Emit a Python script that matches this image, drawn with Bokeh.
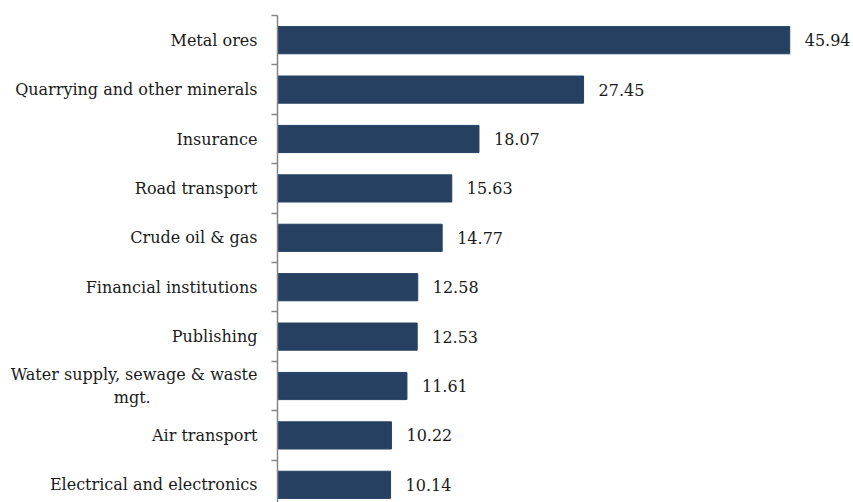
from bokeh.plotting import figure
from bokeh.models import Range1d, FixedTicker, ColumnDataSource
from bokeh.core.properties import value
from bokeh.embed import file_html
from bokeh.resources import INLINE

categories = [
    "Metal ores",
    "Quarrying and other minerals",
    "Insurance",
    "Road transport",
    "Crude oil & gas",
    "Financial institutions",
    "Publishing",
    "Water supply, sewage & waste\nmgt.",
    "Air transport",
    "Electrical and electronics",
]
values = [45.94, 27.45, 18.07, 15.63, 14.77, 12.58, 12.53, 11.61, 10.22, 10.14]

FONT = "DejaVu Serif"
BAR = "#254061"

pos = list(range(len(categories)))
src = ColumnDataSource(dict(y=pos, v=values, lbl=[f"{x:.2f}" for x in values]))

p = figure(width=853, height=502, output_backend="svg", toolbar_location=None,
           x_range=Range1d(0, 51.66), y_range=Range1d(9.358, -0.5),
           min_border_left=277, min_border_right=0, min_border_top=15,
           min_border_bottom=0, outline_line_color=None)

p.hbar(y="y", right="v", left=0, height=0.55, source=src,
       fill_color=BAR, line_color=BAR)
p.text(x="v", y="y", text="lbl", source=src, x_offset=15,
       text_baseline="middle", text_align="left",
       text_font=value(FONT), text_font_size="16px", text_color="#1a1a1a")

p.xaxis.visible = False
p.grid.visible = False


def centered(label):
    # centre the wrapped second line under the first one
    lines = label.split("\n")
    if len(lines) == 2:
        pad = "\u00a0" * 21
        return lines[0] + "\n" + lines[1] + pad
    return label


ya = p.yaxis[0]
ya.ticker = FixedTicker(ticks=pos, minor_ticks=[i - 0.5 for i in range(len(categories) + 1)])
ya.major_label_overrides = {i: centered(c) for i, c in enumerate(categories)}
ya.major_tick_out = 0
ya.major_tick_in = 0
ya.minor_tick_out = 6
ya.minor_tick_in = 0
ya.minor_tick_line_color = "#868686"
ya.axis_line_color = "#868686"
ya.axis_line_width = 1.5
ya.minor_tick_line_width = 1.5
ya.major_label_standoff = 14
ya.major_label_text_font = FONT
ya.major_label_text_font_size = "16px"
ya.major_label_text_color = "#1a1a1a"

open("out.html", "w").write(file_html(p, INLINE))
